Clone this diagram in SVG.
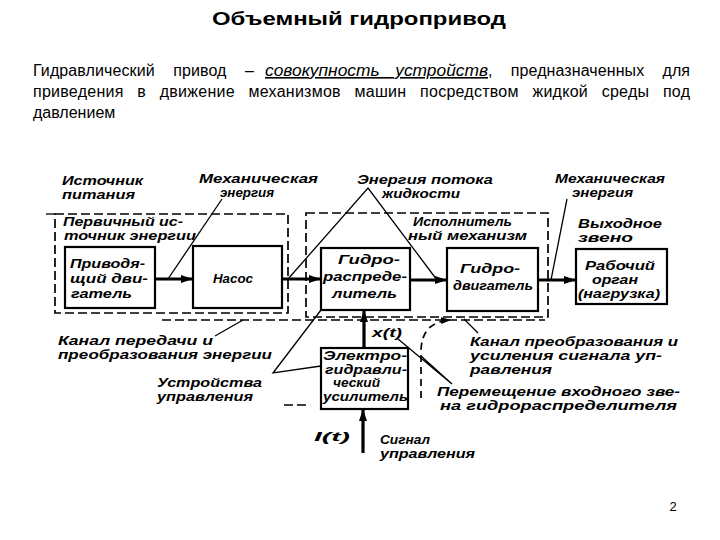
<svg xmlns="http://www.w3.org/2000/svg" width="720" height="540" viewBox="0 0 720 540">
<defs>
<marker id="ah" markerUnits="userSpaceOnUse" markerWidth="12" markerHeight="10" refX="11" refY="5" orient="auto">
<path d="M0,1 L12,5 L0,9 Z" fill="#000"/>
</marker>
<marker id="ahs" markerUnits="userSpaceOnUse" markerWidth="10" markerHeight="8" refX="9" refY="4" orient="auto">
<path d="M0,0.5 L10,4 L0,7.5 Z" fill="#000"/>
</marker>
<style>
.box{fill:#fff;stroke:#000;stroke-width:2.2}
.dash{fill:none;stroke:#000;stroke-width:1.7;stroke-dasharray:9 4}
.flow{fill:none;stroke:#000;stroke-width:3.2}
.lead{fill:none;stroke:#000;stroke-width:1.3}
.lbl{font-family:"Liberation Sans",Arial,sans-serif;font-style:italic;font-weight:bold;font-size:12.5px;fill:#000}
.sm{font-size:12px}
.hd{font-family:"Liberation Sans",Arial,sans-serif;fill:#000}
</style>
</defs>
<rect width="720" height="540" fill="#fff"/>

<g id="title">
<text class="hd" x="212" y="25" font-size="19" font-weight="bold" textLength="294" lengthAdjust="spacingAndGlyphs">Объемный гидропривод</text>
</g>

<g id="definition" class="hd" font-size="16">
<text x="33" y="76" word-spacing="14" textLength="221">Гидравлический привод –</text>
<text x="265" y="76" font-style="italic" text-decoration="underline" word-spacing="10" textLength="223" lengthAdjust="spacingAndGlyphs">совокупность устройств</text>
<text x="488" y="76" word-spacing="13.7" textLength="202">, предназначенных для</text>
<text x="33" y="97" word-spacing="9" textLength="657">приведения в движение механизмов машин посредством жидкой среды под</text>
<text x="33" y="118">давлением</text>
</g>

<g id="connectors">
<path class="flow" d="M155,279 H192" marker-end="url(#ah)"/>
<path class="flow" d="M282,279 H320" marker-end="url(#ah)"/>
<path class="flow" d="M410,280 H446" marker-end="url(#ah)"/>
<path class="flow" d="M538,280 H575" marker-end="url(#ah)"/>
<path class="flow" d="M364,348 V311" marker-end="url(#ah)"/>
<path class="flow" d="M363,453 V410" marker-end="url(#ah)"/>
<path class="dash" d="M421,398 V352 Q421,322 450,320" style="stroke-dasharray:7 5" marker-end="url(#ahs)"/>
<path class="lead" d="M222,199 L168,279"/>
<path class="lead" d="M288,279 L368,188 L437,280"/>
<path class="lead" d="M567,199 L551,280"/>
<path class="lead" d="M215,336 L243,320"/>
<path class="lead" d="M321,310 L273,373 L321,366"/>
<path class="lead" d="M464,319 L478,333"/>
<path class="lead" d="M398,339 L452,384 L421,356"/>
</g>

<g id="channel-energy">
<path class="dash" d="M162,320 H545"/>
<path class="dash" d="M284,405 H310"/>
<text class="lbl" x="58" y="345" textLength="155" lengthAdjust="spacingAndGlyphs">Канал передачи и</text>
<text class="lbl" x="58" y="359" textLength="214" lengthAdjust="spacingAndGlyphs">преобразования энергии</text>
</g>

<g id="power-source">
<text class="lbl" x="62" y="185" textLength="81" lengthAdjust="spacingAndGlyphs">Источник</text>
<text class="lbl" x="62" y="199" textLength="73" lengthAdjust="spacingAndGlyphs">питания</text>
</g>

<g id="primary-source">
<rect class="dash" x="55" y="214" width="233" height="99"/>
<path class="lead" d="M46,214 H55"/>
<text class="lbl" x="63" y="226" textLength="120" lengthAdjust="spacingAndGlyphs">Первичный ис-</text>
<text class="lbl" x="64" y="240" textLength="132" lengthAdjust="spacingAndGlyphs">точник энергии</text>
</g>

<g id="motor">
<rect class="box" x="65" y="247" width="90" height="61"/>
<text class="lbl" x="70" y="268" textLength="75" lengthAdjust="spacingAndGlyphs">Приводя-</text>
<text class="lbl" x="70" y="283" textLength="78" lengthAdjust="spacingAndGlyphs">щий дви-</text>
<text class="lbl" x="71" y="298" textLength="61" lengthAdjust="spacingAndGlyphs">гатель</text>
</g>

<g id="pump">
<rect class="box" x="193" y="246" width="89" height="62"/>
<text class="lbl" x="213" y="283" textLength="40" lengthAdjust="spacingAndGlyphs">Насос</text>
</g>

<g id="mech-energy-1">
<text class="lbl" x="199" y="183" textLength="119" lengthAdjust="spacingAndGlyphs">Механическая</text>
<text class="lbl" x="220" y="197" textLength="54" lengthAdjust="spacingAndGlyphs">энергия</text>
</g>

<g id="fluid-energy">
<text class="lbl" x="357" y="184" textLength="136" lengthAdjust="spacingAndGlyphs">Энергия потока</text>
<text class="lbl" x="382" y="198" textLength="78" lengthAdjust="spacingAndGlyphs">жидкости</text>
</g>

<g id="mech-energy-2">
<text class="lbl" x="555" y="183" textLength="110" lengthAdjust="spacingAndGlyphs">Механическая</text>
<text class="lbl" x="572" y="197" textLength="61" lengthAdjust="spacingAndGlyphs">энергия</text>
</g>

<g id="executive-mechanism">
<rect class="dash" x="306" y="213" width="242" height="104"/>
<text class="lbl" x="413" y="226" textLength="99" lengthAdjust="spacingAndGlyphs">Исполнитель</text>
<text class="lbl" x="408" y="240" textLength="119" lengthAdjust="spacingAndGlyphs">ный механизм</text>
</g>

<g id="distributor">
<rect class="box" x="321" y="248" width="89" height="62"/>
<text class="lbl" x="338" y="264" textLength="62" lengthAdjust="spacingAndGlyphs">Гидро-</text>
<text class="lbl" x="323" y="281" textLength="84" lengthAdjust="spacingAndGlyphs">распреде-</text>
<text class="lbl" x="332" y="298" textLength="65" lengthAdjust="spacingAndGlyphs">литель</text>
</g>

<g id="hydromotor">
<rect class="box" x="447" y="248" width="91" height="63"/>
<text class="lbl" x="460" y="273" textLength="60" lengthAdjust="spacingAndGlyphs">Гидро-</text>
<text class="lbl" x="453" y="290" textLength="80" lengthAdjust="spacingAndGlyphs">двигатель</text>
</g>

<g id="output-link">
<text class="lbl" x="578" y="228" textLength="84" lengthAdjust="spacingAndGlyphs">Выходное</text>
<text class="lbl" x="578" y="242" textLength="55" lengthAdjust="spacingAndGlyphs">звено</text>
</g>

<g id="working-organ">
<rect class="box" x="576" y="249" width="91" height="55"/>
<text class="lbl" x="585" y="270" textLength="70" lengthAdjust="spacingAndGlyphs">Рабочий</text>
<text class="lbl" x="592" y="284" textLength="46" lengthAdjust="spacingAndGlyphs">орган</text>
<text class="lbl" x="578" y="298" textLength="82" lengthAdjust="spacingAndGlyphs">(нагрузка)</text>
</g>

<g id="control-devices">
<text class="lbl" x="157" y="387" textLength="105" lengthAdjust="spacingAndGlyphs">Устройства</text>
<text class="lbl" x="157" y="401" textLength="96" lengthAdjust="spacingAndGlyphs">управления</text>
</g>

<g id="amplifier">
<rect class="box" x="321" y="348" width="87" height="61"/>
<text class="lbl sm" x="323" y="360" textLength="84" lengthAdjust="spacingAndGlyphs">Электро-</text>
<text class="lbl sm" x="325" y="373.5" textLength="82" lengthAdjust="spacingAndGlyphs">гидравли-</text>
<text class="lbl sm" x="333" y="387" textLength="47" lengthAdjust="spacingAndGlyphs">ческий</text>
<text class="lbl sm" x="323" y="401" textLength="85" lengthAdjust="spacingAndGlyphs">усилитель</text>
</g>

<g id="x-t">
<text class="lbl" x="372" y="337" textLength="30" lengthAdjust="spacingAndGlyphs">x(t)</text>
</g>

<g id="i-t">
<text class="lbl" x="314" y="441" textLength="36" lengthAdjust="spacingAndGlyphs">I(t)</text>
</g>

<g id="control-signal">
<text class="lbl" x="380" y="444" textLength="50" lengthAdjust="spacingAndGlyphs">Сигнал</text>
<text class="lbl" x="380" y="458" textLength="95" lengthAdjust="spacingAndGlyphs">управления</text>
</g>

<g id="channel-signal">
<text class="lbl" x="470" y="346" textLength="208" lengthAdjust="spacingAndGlyphs">Канал преобразования и</text>
<text class="lbl" x="470" y="360" textLength="192" lengthAdjust="spacingAndGlyphs">усиления сигнала уп-</text>
<text class="lbl" x="470" y="374" textLength="82" lengthAdjust="spacingAndGlyphs">равления</text>
</g>

<g id="displacement">
<text class="lbl" x="437" y="396" textLength="243" lengthAdjust="spacingAndGlyphs">Перемещение входного зве-</text>
<text class="lbl" x="440" y="410" textLength="237" lengthAdjust="spacingAndGlyphs">на гидрораспределителя</text>
</g>

<g id="page-number">
<text class="hd" x="673" y="511" font-size="13" text-anchor="middle">2</text>
</g>
</svg>
